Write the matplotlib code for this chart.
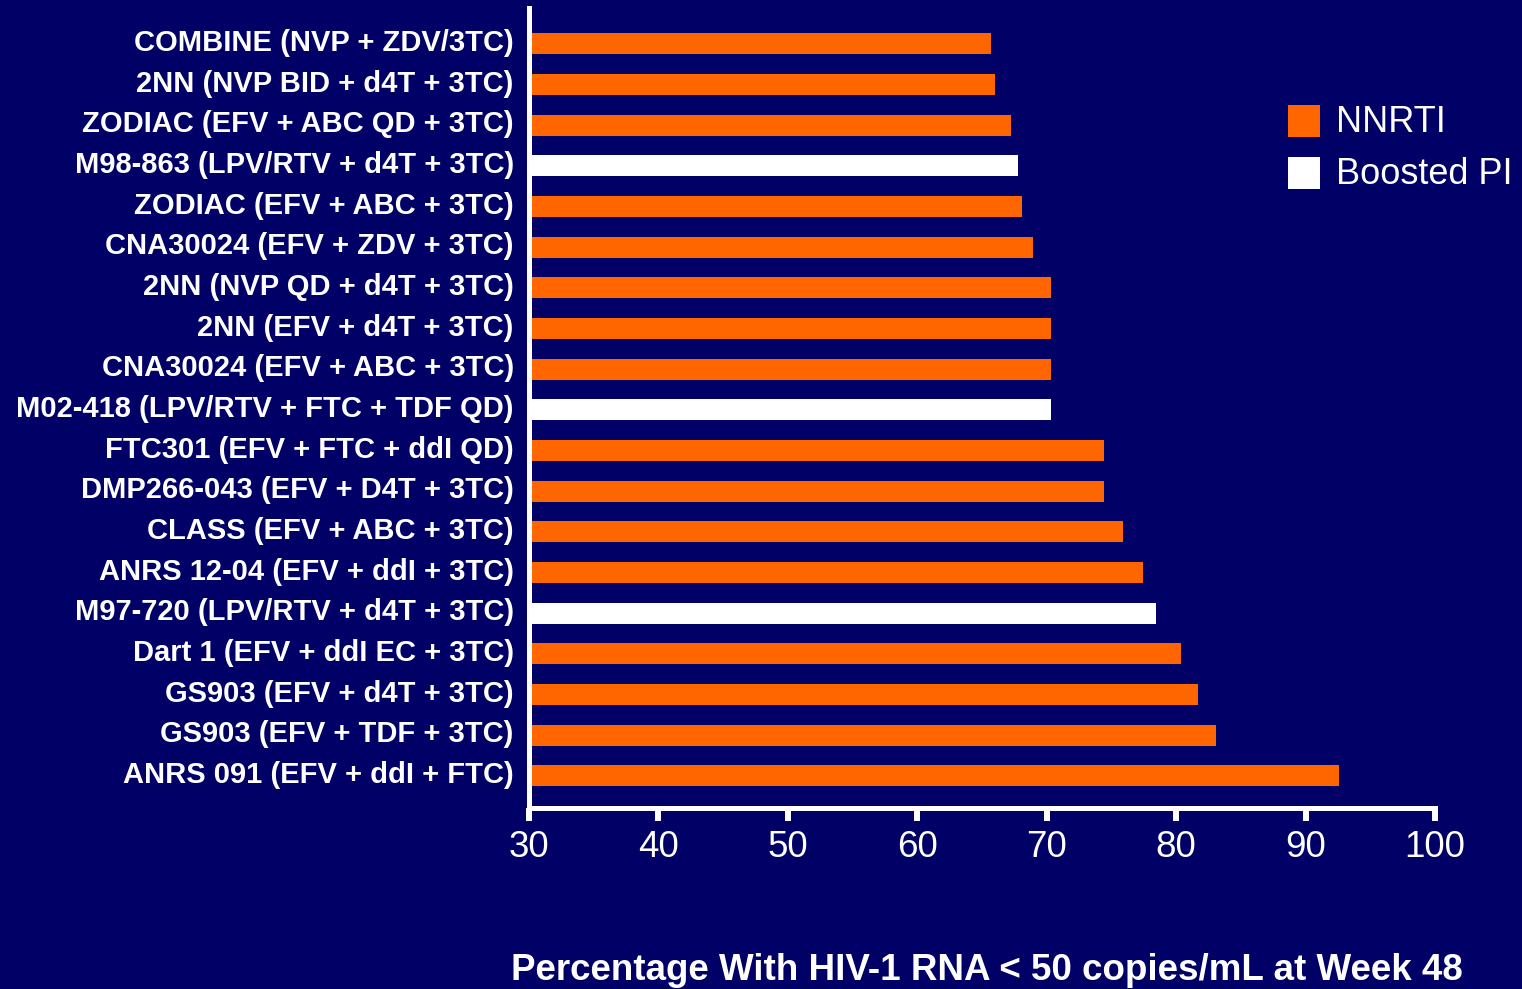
import matplotlib
matplotlib.use("Agg")
import matplotlib.pyplot as plt
import matplotlib.transforms as mtransforms
import numpy as np
from matplotlib.patches import Rectangle

# regimens listed top to bottom
regimens = [
    "COMBINE (NVP + ZDV/3TC)",
    "2NN (NVP BID + d4T + 3TC)",
    "ZODIAC (EFV + ABC QD + 3TC)",
    "M98-863 (LPV/RTV + d4T + 3TC)",
    "ZODIAC (EFV + ABC + 3TC)",
    "CNA30024 (EFV + ZDV + 3TC)",
    "2NN (NVP QD + d4T + 3TC)",
    "2NN (EFV + d4T + 3TC)",
    "CNA30024 (EFV + ABC + 3TC)",
    "M02-418 (LPV/RTV + FTC + TDF QD)",
    "FTC301 (EFV + FTC + ddI QD)",
    "DMP266-043 (EFV + D4T + 3TC)",
    "CLASS (EFV + ABC + 3TC)",
    "ANRS 12-04 (EFV + ddI + 3TC)",
    "M97-720 (LPV/RTV + d4T + 3TC)",
    "Dart 1 (EFV + ddI EC + 3TC)",
    "GS903 (EFV + d4T + 3TC)",
    "GS903 (EFV + TDF + 3TC)",
    "ANRS 091 (EFV + ddI + FTC)",
]
pct_below_50 = [65.7, 66.0, 67.2, 67.8, 68.1, 68.9, 70.3, 70.3, 70.3, 70.3,
                74.4, 74.4, 75.9, 77.4, 78.4, 80.4, 81.7, 83.1, 92.6]
drug_class = ["NNRTI", "NNRTI", "NNRTI", "PI", "NNRTI", "NNRTI", "NNRTI", "NNRTI",
              "NNRTI", "PI", "NNRTI", "NNRTI", "NNRTI", "NNRTI", "PI", "NNRTI",
              "NNRTI", "NNRTI", "NNRTI"]
x_ticks = [30, 40, 50, 60, 70, 80, 90, 100]

BG = "#000066"
ORANGE = "#FF6600"
WHITE = "#FFFFFF"
FONT = "Liberation Sans"

fig = plt.figure(figsize=(15.22, 9.89), dpi=100, facecolor=BG)
ax = fig.add_axes([0.3476, 0.183, 0.5953, 0.809], facecolor=BG)

y = np.arange(len(regimens))
colors = [ORANGE if c == "NNRTI" else WHITE for c in drug_class]
# bars start at 0; the axis begins at 30 so they are clipped there
ax.barh(y, pct_below_50, height=0.52, color=colors, zorder=2)
ax.set_xlim(30, 100)
ax.set_ylim(len(regimens) - 1 + 0.79, -0.885)

ax.set_yticks(y)
ax.set_yticklabels(regimens, fontsize=21, fontweight="bold", color=WHITE, family=FONT)
ax.tick_params(axis="y", length=0, pad=11)
lift = mtransforms.ScaledTranslation(0, 4 / 100, fig.dpi_scale_trans)
for lbl in ax.get_yticklabels():
    lbl.set_transform(lbl.get_transform() + lift)

ax.set_xticks(x_ticks)
ax.set_xticklabels([str(t) for t in x_ticks], fontsize=26.5, color=WHITE, family=FONT)
ax.tick_params(axis="x", length=9, width=4.3, color=WHITE, pad=7, direction="out")

for side in ("top", "right"):
    ax.spines[side].set_visible(False)
for side in ("left", "bottom"):
    ax.spines[side].set_color(WHITE)
    ax.spines[side].set_linewidth(3.6)

# legend: coloured squares with labels at the upper right
W, H = 1522, 989
legend_items = [(ORANGE, "NNRTI", 105), (WHITE, "Boosted PI", 157)]
for color, label, top in legend_items:
    fig.patches.append(Rectangle((1288 / W, 1 - (top + 32) / H), 32 / W, 32 / H,
                                 transform=fig.transFigure, facecolor=color,
                                 edgecolor="none"))
    fig.text(1336 / W, 1 - (top + 17) / H, label, ha="left", va="center",
             fontsize=26, color=WHITE, family=FONT)

fig.text(987 / W, 0.009, "Percentage With HIV-1 RNA < 50 copies/mL at Week 48",
         ha="center", va="baseline", fontsize=26.5, fontweight="bold", color=WHITE,
         family=FONT)

fig.savefig("out.png", dpi=100, facecolor=BG)
